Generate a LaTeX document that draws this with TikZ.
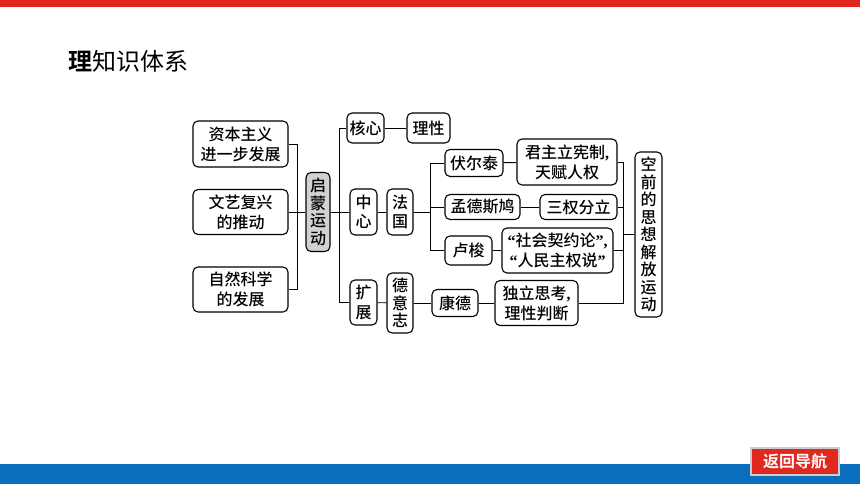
\documentclass[tikz,border=0pt]{standalone}
\usepackage{fontspec}
\newfontfamily\cjk{Noto Sans CJK SC}[BoldFont={* Medium}]
\newfontfamily\cjkheavy{Noto Sans CJK SC}[UprightFont={* Bold}]
\newfontfamily\lat{Liberation Serif}
\definecolor{barred}{HTML}{E0281E}
\definecolor{barblue}{HTML}{0A6EBD}
\begin{document}
\begin{tikzpicture}[x=1pt, y=-1pt,
                    line width=0.9pt,
                    font=\cjk\bfseries\fontsize{16}{20}\selectfont]
    \tikzstyle{item}=[draw, rounded corners=5pt, fill=white, inner sep=0pt, align=center, line width=1.1pt]
    \tikzstyle{tall}=[item, font=\cjk\bfseries\fontsize{16}{17.5}\selectfont]
    \tikzstyle{main}=[tall, fill=gray!35]
    \tikzstyle{backbtn}=[draw=gray!40, line width=1.5pt, fill=barred, text=white, inner sep=0pt, font=\cjkheavy\fontsize{16}{16}\selectfont]

    \useasboundingbox (0,0) rectangle (860,484);
    \fill[barred] (0,0) rectangle (860,7);
    \fill[barblue] (0,464) rectangle (860,484);
    \node[anchor=west, inner sep=0pt, font=\cjk\fontsize{24}{24}\selectfont] (title) at (68,61) {{\cjkheavy 理}知识体系};
    \node[backbtn, minimum width=88pt, minimum height=27pt] (back) at (795,461.5) {返回导航};

    \node[item, minimum width=95pt, minimum height=46pt] (zb) at (240.5,144) {资本主义\\进一步发展};
    \node[item, minimum width=95pt, minimum height=45pt] (wy) at (240.5,212) {文艺复兴\\的推动};
    \node[item, minimum width=95pt, minimum height=45pt] (zr) at (240.5,289.5) {自然科学\\的发展};
    \node[main, minimum width=24pt, minimum height=79pt] (qm) at (318,212) {启\\蒙\\运\\动};

    \node[item, minimum width=37pt, minimum height=30pt] (hx) at (365.5,128) {核心};
    \node[item, minimum width=43pt, minimum height=30pt] (lx) at (428.5,128) {理性};
    \node[tall, minimum width=27pt, minimum height=46pt] (zx) at (363.5,212) {中\\[2pt]心};
    \node[tall, minimum width=26pt, minimum height=46pt] (fg) at (400,212) {法\\[2pt]国};
    \node[tall, minimum width=27pt, minimum height=45pt] (kz) at (363.5,302.5) {扩\\[2pt]展};
    \node[tall, minimum width=26pt, minimum height=60pt] (dyz) at (400,303) {德\\意\\志};

    \node[item, minimum width=58pt, minimum height=27pt] (fet) at (474,163) {伏尔泰};
    \node[item, minimum width=100pt, minimum height=46pt] (jz) at (567,162) {君主立宪制{\lat ,}\\天赋人权};
    \node[item, minimum width=75pt, minimum height=25pt] (mds) at (482.5,207) {孟德斯鸠};
    \node[item, minimum width=77pt, minimum height=25pt] (sq) at (578.5,207) {三权分立};
    \node[item, minimum width=47pt, minimum height=29pt] (ls) at (468.5,250.5) {卢梭};
    \node[item, minimum width=111pt, minimum height=45pt] (sh) at (557.5,250.5) {{\lat\bfseries “}社会契约论{\lat\bfseries ”,}\\{\lat\bfseries “}人民主权说{\lat\bfseries ”}};
    \node[item, minimum width=46pt, minimum height=27pt] (kd) at (455,303) {康德};
    \node[item, minimum width=83pt, minimum height=45pt] (dl) at (536.5,303) {独立思考{\lat ,}\\理性判断};
    \node[tall, minimum width=27pt, minimum height=165pt] (kq) at (648.5,234.5) {空\\前\\的\\思\\想\\解\\放\\运\\动};

    \coordinate (lspine) at (297,0);
    \coordinate (mspine) at (339,0);
    \coordinate (fspine) at (430,0);
    \coordinate (rspine) at (623,0);

    \draw (zb.east) -- (zb.east -| lspine) -- (zr.east -| lspine) -- (zr.east);
    \draw (wy.east) -- (qm.west);
    \draw (hx.west) -- (hx.west -| mspine) -- (kz.west -| mspine) -- (kz.west);
    \draw (qm.east) -- (zx.west);
    \draw (hx) -- (lx);
    \draw (zx) -- (fg);
    \draw (kz) -- (dyz);
    \draw (dyz) -- (kd);
    \draw (kd) -- (dl);
    \draw (fet.west) -- (fet.west -| fspine) -- (ls.west -| fspine) -- (ls.west);
    \draw (fg.east) -- (fg.east -| fspine);
    \draw (mds.west) -- (mds.west -| fspine);
    \draw (fet) -- (jz);
    \draw (mds) -- (sq);
    \draw (ls) -- (sh);
    \draw (jz.east) -- (jz.east -| rspine) -- (dl.east -| rspine) -- (dl.east);
    \draw (sq.east) -- (sq.east -| rspine);
    \draw (sh.east) -- (sh.east -| rspine);
    \draw (kq.west) -- (kq.west -| rspine);
\end{tikzpicture}
\end{document}
